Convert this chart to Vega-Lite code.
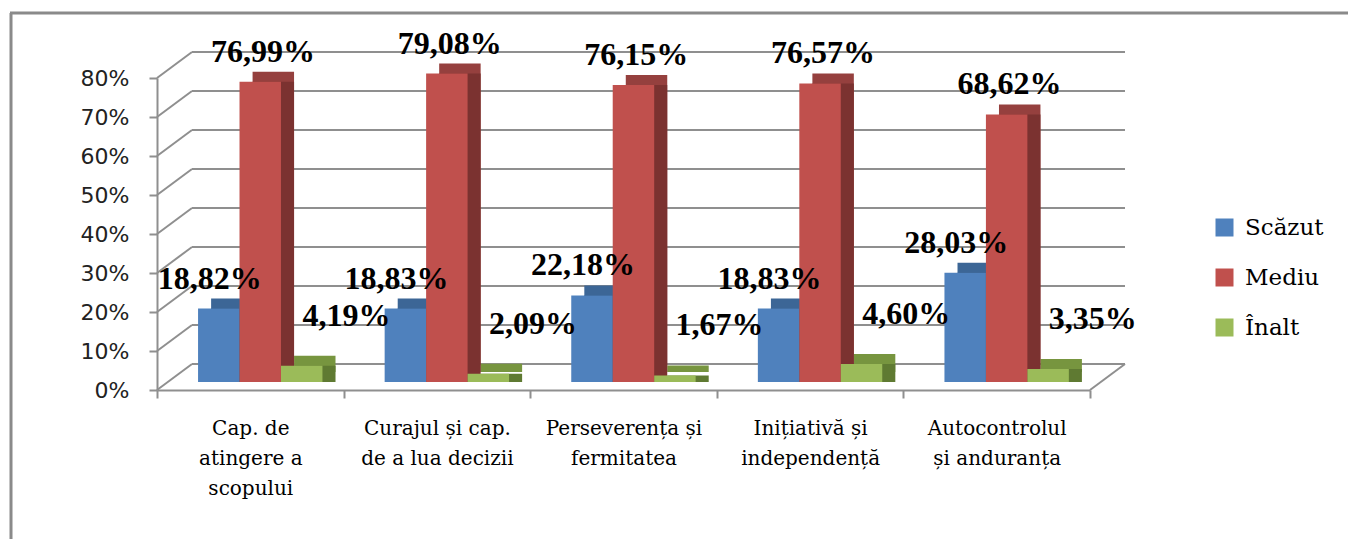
{
  "$schema": "https://vega.github.io/schema/vega-lite/v6.json",
  "width": 933,
  "height": 312,
  "autosize": {"type": "none"},
  "padding": {"left": 157, "top": 78, "right": 258, "bottom": 149},
  "background": "white",
  "config": {
    "view": {"stroke": null},
    "locale": {"number": {"decimal": ",", "thousands": ".", "grouping": [3], "currency": ["", ""]}},
    "axisX": {"labelFont": "DejaVu Serif", "labelFontSize": 20, "labelColor": "#000000", "labelAlign": "center"},
    "axisY": {"labelFont": "DejaVu Sans", "labelFontSize": 22, "labelColor": "#222222"},
    "legend": {"labelFont": "DejaVu Serif", "labelFontSize": 23, "labelColor": "#000000"}
  },
  "datasets": {
    "bars": [
      {"cat": "Cap. de\natingere a\nscopului", "series": "Scăzut", "value": 0.1882},
      {"cat": "Cap. de\natingere a\nscopului", "series": "Mediu", "value": 0.7699},
      {"cat": "Cap. de\natingere a\nscopului", "series": "Înalt", "value": 0.0419},
      {"cat": "Curajul și cap.\nde a lua decizii", "series": "Scăzut", "value": 0.1883},
      {"cat": "Curajul și cap.\nde a lua decizii", "series": "Mediu", "value": 0.7908},
      {"cat": "Curajul și cap.\nde a lua decizii", "series": "Înalt", "value": 0.0209},
      {"cat": "Perseverența și\nfermitatea", "series": "Scăzut", "value": 0.2218},
      {"cat": "Perseverența și\nfermitatea", "series": "Mediu", "value": 0.7615},
      {"cat": "Perseverența și\nfermitatea", "series": "Înalt", "value": 0.0167},
      {"cat": "Inițiativă și\nindependență", "series": "Scăzut", "value": 0.1883},
      {"cat": "Inițiativă și\nindependență", "series": "Mediu", "value": 0.7657},
      {"cat": "Inițiativă și\nindependență", "series": "Înalt", "value": 0.0460},
      {"cat": "Autocontrolul\nși anduranța", "series": "Scăzut", "value": 0.2803},
      {"cat": "Autocontrolul\nși anduranța", "series": "Mediu", "value": 0.6862},
      {"cat": "Autocontrolul\nși anduranța", "series": "Înalt", "value": 0.0335}
    ],
    "ticks": [
      {"t": 0}, {"t": 0.1}, {"t": 0.2}, {"t": 0.3}, {"t": 0.4},
      {"t": 0.5}, {"t": 0.6}, {"t": 0.7}, {"t": 0.8}
    ]
  },
  "resolve": {"scale": {"color": "independent", "xOffset": "independent"}},
  "layer": [
    {
      "data": {"name": "ticks"},
      "mark": {"type": "rule", "color": "#8f8f8f", "strokeWidth": 2, "xOffset": 35, "x2Offset": 35, "yOffset": -26, "y2Offset": -26},
      "encoding": {
        "x": {"datum": "Cap. de\natingere a\nscopului", "bandPosition": 0,
          "scale": {"domain": ["Cap. de\natingere a\nscopului", "Curajul și cap.\nde a lua decizii", "Perseverența și\nfermitatea", "Inițiativă și\nindependență", "Autocontrolul\nși anduranța"], "paddingInner": 0, "paddingOuter": 0},
          "axis": {
            "title": null,
            "domainColor": "#8f8f8f", "domainWidth": 2, "tickColor": "#8f8f8f", "tickWidth": 2, "tickSize": 8,
            "tickBand": "extent", "labelAngle": 0, "labelAlign": "center", "labelFont": "DejaVu Serif", "labelFontSize": 20,
            "labelColor": "#000000", "labelLineHeight": 30, "labelPadding": 20, "labelBaseline": "top",
            "labelLimit": 300, "labelOverlap": false, "labelBound": false,
            "labelExpr": "split(datum.label, '\\n')"
          }},
        "x2": {"datum": "Autocontrolul\nși anduranța", "bandPosition": 1},
        "y": {"field": "t", "type": "quantitative", "title": null,
          "scale": {"domain": [0, 0.8], "nice": false, "zero": true},
          "axis": {
            "title": null,
            "values": [0, 0.1, 0.2, 0.3, 0.4, 0.5, 0.6, 0.7, 0.8], "tickCount": 9, "format": ".0%", "grid": false,
            "labelOverlap": false,
            "domainColor": "#8f8f8f", "domainWidth": 2, "tickColor": "#8f8f8f", "tickWidth": 2, "tickSize": 8,
            "labelFont": "DejaVu Sans", "labelFontSize": 22, "labelColor": "#222222", "labelPadding": 20
          }},
        "y2": {"field": "t"}
      }
    },
    {
      "data": {"name": "ticks"},
      "mark": {"type": "rule", "color": "#8f8f8f", "strokeWidth": 2, "x2Offset": 35, "y2Offset": -26},
      "encoding": {
        "x": {"datum": "Cap. de\natingere a\nscopului", "bandPosition": 0},
        "x2": {"datum": "Cap. de\natingere a\nscopului", "bandPosition": 0},
        "y": {"field": "t", "type": "quantitative"},
        "y2": {"field": "t"}
      }
    },
    {
      "data": {"values": [{"t": 0}]},
      "mark": {"type": "rule", "color": "#8f8f8f", "strokeWidth": 2, "x2Offset": 35, "y2Offset": -26},
      "encoding": {
        "x": {"datum": "Autocontrolul\nși anduranța", "bandPosition": 1},
        "x2": {"datum": "Autocontrolul\nși anduranța", "bandPosition": 1},
        "y": {"field": "t", "type": "quantitative"},
        "y2": {"field": "t"}
      }
    },
    {
      "data": {"name": "bars"},
      "mark": {"type": "bar", "yOffset": -18, "y2Offset": -18},
      "encoding": {
        "x": {"field": "cat", "type": "nominal"},
        "xOffset": {"field": "series", "type": "nominal", "scale": {"domain": ["Scăzut", "Mediu", "Înalt"], "paddingInner": 0, "paddingOuter": 0.75, "align": 0.87}},
        "y": {"field": "value", "type": "quantitative"},
        "color": {"field": "series", "type": "nominal", "legend": null,
          "scale": {"domain": ["Scăzut", "Mediu", "Înalt"], "range": ["#3C6696", "#95403E", "#77953F"]}}
      }
    },
    {
      "data": {"name": "bars"},
      "mark": {"type": "bar", "yOffset": -8, "y2Offset": -18},
      "encoding": {
        "x": {"field": "cat", "type": "nominal"},
        "xOffset": {"field": "series", "type": "nominal", "scale": {"domain": ["Scăzut", "Mediu", "Înalt"], "paddingInner": 0, "paddingOuter": 0.75, "align": 0.87}},
        "y": {"field": "value", "type": "quantitative"},
        "color": {"field": "series", "type": "nominal", "legend": null,
          "scale": {"domain": ["Scăzut", "Mediu", "Înalt"], "range": ["#30527A", "#7B3230", "#5F7A32"]}}
      }
    },
    {
      "data": {"name": "bars"},
      "mark": {"type": "bar", "yOffset": -8, "y2Offset": -8},
      "encoding": {
        "x": {"field": "cat", "type": "nominal"},
        "xOffset": {"field": "series", "type": "nominal", "scale": {"domain": ["Scăzut", "Mediu", "Înalt"], "paddingInner": 0, "paddingOuter": 0.75, "align": 0.66}},
        "y": {"field": "value", "type": "quantitative"},
        "color": {"field": "series", "type": "nominal",
          "scale": {"domain": ["Scăzut", "Mediu", "Înalt"], "range": ["#4F81BD", "#C0504D", "#9BBB59"]},
          "legend": {
            "title": null, "orient": "none", "legendX": 1056, "legendY": 138, "padding": 0,
            "symbolType": "square", "symbolSize": 324, "symbolStrokeWidth": 0,
            "labelFont": "DejaVu Serif", "labelFontSize": 23, "labelColor": "#000000",
            "labelOffset": 9, "rowPadding": 26
          }}
      }
    },
    {
      "data": {"name": "bars"},
      "transform": [{"filter": "datum.series !== 'Înalt'"}],
      "mark": {"type": "text", "font": "Liberation Serif", "fontWeight": "bold", "fontSize": 32, "baseline": "alphabetic", "align": "center", "dy": -28, "color": "#000000"},
      "encoding": {
        "x": {"field": "cat", "type": "nominal"},
        "xOffset": {"field": "series", "type": "nominal", "scale": {"domain": ["Scăzut", "Mediu", "Înalt"], "paddingInner": 0, "paddingOuter": 0.75, "align": 0.66}},
        "y": {"field": "value", "type": "quantitative"},
        "text": {"field": "value", "type": "quantitative", "format": ".2%"}
      }
    },
    {
      "data": {"name": "bars"},
      "transform": [{"filter": "datum.series === 'Înalt'"}],
      "mark": {"type": "text", "font": "Liberation Serif", "fontWeight": "bold", "fontSize": 32, "baseline": "alphabetic", "align": "center", "dx": 30, "dy": -48, "color": "#000000"},
      "encoding": {
        "x": {"field": "cat", "type": "nominal"},
        "xOffset": {"field": "series", "type": "nominal", "scale": {"domain": ["Scăzut", "Mediu", "Înalt"], "paddingInner": 0, "paddingOuter": 0.75, "align": 0.66}},
        "y": {"field": "value", "type": "quantitative"},
        "text": {"field": "value", "type": "quantitative", "format": ".2%"}
      }
    },
    {
      "data": {"values": [{"t": 0.9667}]},
      "mark": {"type": "rule", "color": "#8a8a8a", "strokeWidth": 3, "xOffset": -147, "x2Offset": 258},
      "encoding": {
        "x": {"datum": "Cap. de\natingere a\nscopului", "bandPosition": 0},
        "x2": {"datum": "Autocontrolul\nși anduranța", "bandPosition": 1},
        "y": {"field": "t", "type": "quantitative"},
        "y2": {"field": "t"}
      }
    },
    {
      "data": {"values": [{"t": 0.9667, "b": -0.45}]},
      "mark": {"type": "rule", "color": "#8a8a8a", "strokeWidth": 3, "xOffset": -146, "x2Offset": -146},
      "encoding": {
        "x": {"datum": "Cap. de\natingere a\nscopului", "bandPosition": 0},
        "y": {"field": "t", "type": "quantitative"},
        "y2": {"field": "b"}
      }
    }
  ]
}
